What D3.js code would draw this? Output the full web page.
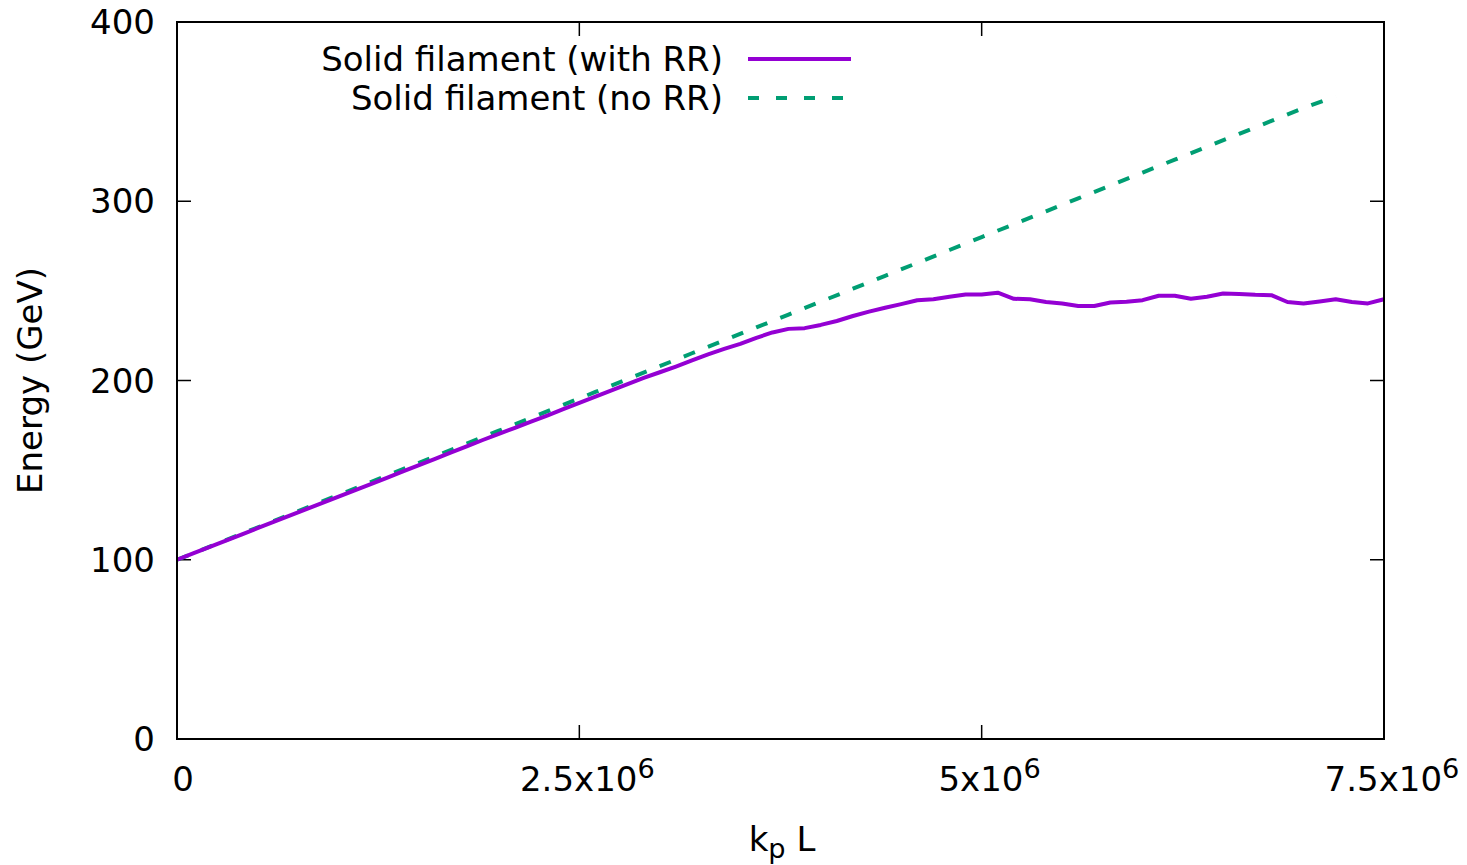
<!DOCTYPE html>
<html>
<head>
<meta charset="utf-8">
<script src="https://cdn.jsdelivr.net/npm/d3@7/dist/d3.min.js"></script>
<style>
  body { margin: 0; background: #fff; }
  text { font-family: "DejaVu Sans", sans-serif; fill: #000; }
</style>
</head>
<body>
<div id="chart"></div>
<script>
// kp L sampled every 0.1e6 for the RR run
var withRR_x = d3.range(0, 76).map(function(i){ return i * 1e5; });
var withRR_y = [100, 103.5, 107.0, 110.5, 114.0, 117.6, 121.1, 124.6, 128.1, 131.6,
    135.1, 138.5, 142.0, 145.5, 149.2, 152.7, 156.2, 159.8, 163.3, 166.8,
    170.2, 173.6, 177.0, 180.4, 184.0, 187.5, 191.0, 194.5, 198.0, 201.4,
    204.6, 207.8, 211.2, 214.6, 217.6, 220.4, 223.8, 226.8, 228.8, 229.2,
    231.0, 233.2, 236.0, 238.4, 240.6, 242.6, 244.8, 245.3, 246.7, 248.0,
    248.0, 249.0, 245.6, 245.3, 243.8, 243.0, 241.6, 241.6, 243.5, 243.9,
    244.8, 247.3, 247.3, 245.6, 246.7, 248.5, 248.2, 247.8, 247.6, 243.8,
    243.0, 244.1, 245.3, 243.8, 243.0, 245.3];

var noRR_x = d3.range(0, 37).map(function(i){ return i * 2e5; });
var noRR_y = [100, 107.2, 114.4, 121.6, 128.8, 136.0, 143.2, 150.4, 157.6, 164.8,
    172.0, 179.2, 186.4, 193.6, 200.8, 208.0, 215.2, 222.4, 229.6, 236.8,
    244.0, 251.2, 258.4, 265.6, 272.8, 280.0, 287.2, 294.4, 301.6, 308.8,
    316.0, 323.2, 330.4, 337.6, 344.8, 352.0, 358.6];

var seriesNames = ["Solid filament (with RR)", "Solid filament (no RR)"];
var seriesColors = ["#9400d3", "#009e73"];

var xTicks = [0, 2.5e6, 5e6, 7.5e6];
var xTickMantissa = ["0", "2.5x10", "5x10", "7.5x10"];
var xTickExp = ["", "6", "6", "6"];
var yTicks = [0, 100, 200, 300, 400];

var width = 1467, height = 865;
var margin = {left: 177, right: 83, top: 22, bottom: 126};
var fs = 34;

var svg = d3.select("#chart").append("svg")
    .attr("width", width)
    .attr("height", height);

var x = d3.scaleLinear().domain([0, 7.5e6]).range([margin.left, width - margin.right]);
var y = d3.scaleLinear().domain([0, 400]).range([height - margin.bottom, margin.top]);

var x0 = x.range()[0], x1 = x.range()[1], y0 = y.range()[0], y1 = y.range()[1];
var tick = 14;

// inward ticks on all four sides
var ticks = svg.append("g").attr("stroke", "#000").attr("stroke-width", 1.5);
yTicks.forEach(function(v){
    ticks.append("line").attr("x1", x0).attr("x2", x0 + tick).attr("y1", y(v)).attr("y2", y(v));
    ticks.append("line").attr("x1", x1).attr("x2", x1 - tick).attr("y1", y(v)).attr("y2", y(v));
});
xTicks.forEach(function(v){
    ticks.append("line").attr("x1", x(v)).attr("x2", x(v)).attr("y1", y0).attr("y2", y0 - tick);
    ticks.append("line").attr("x1", x(v)).attr("x2", x(v)).attr("y1", y1).attr("y2", y1 + tick);
});

svg.selectAll(".ylab").data(yTicks).enter().append("text")
    .attr("class", "ylab")
    .attr("x", x0 - 22)
    .attr("y", function(d){ return y(d) + fs * 0.36; })
    .attr("text-anchor", "end")
    .attr("font-size", fs)
    .text(function(d){ return d; });

var xl = svg.selectAll(".xlab").data(xTicks).enter().append("text")
    .attr("class", "xlab")
    .attr("x", function(d, i){ return x(d) + (i == 0 ? 6 : 8); })
    .attr("y", y0 + 52)
    .attr("text-anchor", "middle")
    .attr("font-size", fs);
xl.append("tspan").text(function(d, i){ return xTickMantissa[i]; });
xl.append("tspan")
    .attr("font-size", fs * 0.8)
    .attr("dy", -13)
    .text(function(d, i){ return xTickExp[i]; });

// lines
var lineRR = d3.line()
    .x(function(d){ return x(d[0]); })
    .y(function(d){ return y(d[1]); });

svg.append("path")
    .datum(d3.zip(noRR_x, noRR_y))
    .attr("d", lineRR)
    .attr("fill", "none")
    .attr("stroke", seriesColors[1])
    .attr("stroke-width", 4)
    .attr("stroke-dasharray", "12,14");

svg.append("path")
    .datum(d3.zip(withRR_x, withRR_y))
    .attr("d", lineRR)
    .attr("fill", "none")
    .attr("stroke", seriesColors[0])
    .attr("stroke-width", 4)
    .attr("stroke-linejoin", "round");

// frame
svg.append("rect")
    .attr("x", x0).attr("y", y1)
    .attr("width", x1 - x0).attr("height", y0 - y1)
    .attr("fill", "none").attr("stroke", "#000").attr("stroke-width", 2);

// legend
var legY = [59, 98];
seriesNames.forEach(function(name, i){
    svg.append("text")
        .attr("x", 723).attr("y", legY[i] + fs * 0.36)
        .attr("text-anchor", "end")
        .attr("font-size", fs)
        .text(name);
    svg.append("line")
        .attr("x1", 748).attr("x2", i == 0 ? 851 : 845)
        .attr("y1", legY[i]).attr("y2", legY[i])
        .attr("stroke", seriesColors[i])
        .attr("stroke-width", 4)
        .attr("stroke-dasharray", i == 0 ? null : "11,17");
});

// axis titles
var xt = svg.append("text")
    .attr("x", 782).attr("y", 851)
    .attr("text-anchor", "middle")
    .attr("font-size", fs);
xt.append("tspan").text("k");
xt.append("tspan").attr("font-size", fs * 0.8).attr("dy", 7).text("p");
xt.append("tspan").attr("dy", -7).text(" L");

svg.append("text")
    .attr("transform", "translate(42," + ((y0 + y1) / 2) + ") rotate(-90)")
    .attr("text-anchor", "middle")
    .attr("font-size", fs)
    .text("Energy (GeV)");
</script>
</body>
</html>
